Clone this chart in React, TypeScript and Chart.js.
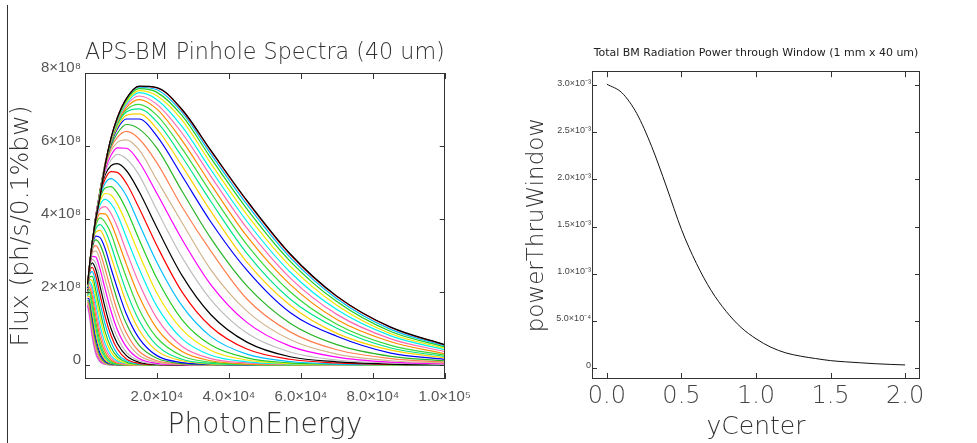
import React, { useEffect, useRef } from 'react';
import { Chart, registerables } from 'chart.js';

Chart.register(...registerables);

// ---------- Left panel: pinhole spectra (flux in units of 1e8 ph/s/0.1%bw) ----------
const ENERGY = [700, 1200, 2000, 3000, 4200, 5600, 7200, 9000, 11500, 15000, 20000, 27000, 35000, 45000, 57000, 70000, 85000, 100000];

const FLUX = [
  [2.21, 2.69, 3.36, 4.00, 4.62, 5.48, 6.21, 6.78, 7.30, 7.64, 7.60, 7.00, 5.88, 4.51, 3.05, 1.89, 1.04, 0.56],
  [2.21, 2.69, 3.36, 4.00, 4.62, 5.48, 6.21, 6.78, 7.30, 7.63, 7.59, 6.98, 5.86, 4.49, 3.03, 1.88, 1.03, 0.55],
  [2.21, 2.68, 3.35, 4.00, 4.63, 5.48, 6.21, 6.76, 7.29, 7.61, 7.54, 6.92, 5.78, 4.40, 2.95, 1.82, 0.98, 0.53],
  [2.20, 2.68, 3.35, 3.99, 4.64, 5.47, 6.20, 6.74, 7.25, 7.57, 7.47, 6.83, 5.67, 4.28, 2.85, 1.74, 0.92, 0.50],
  [2.19, 2.68, 3.34, 3.99, 4.64, 5.48, 6.19, 6.73, 7.21, 7.52, 7.38, 6.71, 5.52, 4.12, 2.71, 1.64, 0.86, 0.46],
  [2.19, 2.68, 3.34, 3.99, 4.66, 5.50, 6.18, 6.70, 7.16, 7.46, 7.27, 6.53, 5.35, 3.94, 2.55, 1.52, 0.80, 0.42],
  [2.18, 2.67, 3.34, 3.99, 4.67, 5.54, 6.16, 6.68, 7.11, 7.37, 7.14, 6.35, 5.17, 3.75, 2.39, 1.39, 0.72, 0.37],
  [2.17, 2.66, 3.33, 3.98, 4.69, 5.53, 6.14, 6.65, 7.05, 7.27, 7.01, 6.15, 4.95, 3.53, 2.21, 1.25, 0.64, 0.31],
  [2.16, 2.66, 3.33, 3.98, 4.70, 5.52, 6.12, 6.62, 6.99, 7.14, 6.84, 5.93, 4.72, 3.30, 2.01, 1.12, 0.54, 0.27],
  [2.15, 2.65, 3.32, 3.97, 4.73, 5.51, 6.11, 6.58, 6.93, 7.02, 6.66, 5.70, 4.48, 3.06, 1.81, 1.01, 0.47, 0.24],
  [2.14, 2.65, 3.32, 3.96, 4.75, 5.51, 6.09, 6.52, 6.84, 6.88, 6.47, 5.45, 4.21, 2.82, 1.64, 0.87, 0.41, 0.20],
  [2.12, 2.65, 3.31, 3.96, 4.77, 5.51, 6.05, 6.47, 6.74, 6.74, 6.27, 5.18, 3.92, 2.60, 1.44, 0.79, 0.33, 0.16],
  [2.11, 2.64, 3.31, 3.94, 4.79, 5.47, 6.00, 6.35, 6.59, 6.47, 5.94, 4.76, 3.47, 2.17, 1.15, 0.56, 0.24, 0.12],
  [2.10, 2.63, 3.29, 3.95, 4.82, 5.44, 5.94, 6.24, 6.40, 6.20, 5.54, 4.33, 3.12, 1.81, 0.91, 0.42, 0.18, 0.08],
  [2.09, 2.63, 3.29, 3.99, 4.81, 5.41, 5.86, 6.10, 6.17, 5.90, 5.07, 3.90, 2.61, 1.48, 0.70, 0.30, 0.12, 0.06],
  [2.08, 2.62, 3.28, 4.03, 4.80, 5.35, 5.74, 5.95, 5.94, 5.57, 4.70, 3.44, 2.20, 1.17, 0.52, 0.22, 0.08, 0.04],
  [2.07, 2.61, 3.27, 4.05, 4.77, 5.29, 5.61, 5.77, 5.65, 5.21, 4.24, 2.95, 1.79, 0.88, 0.36, 0.14, 0.06, 0.02],
  [2.05, 2.60, 3.25, 4.08, 4.73, 5.21, 5.46, 5.52, 5.33, 4.76, 3.76, 2.45, 1.38, 0.63, 0.23, 0.09, 0.03, 0.01],
  [2.05, 2.60, 3.25, 4.09, 4.70, 5.10, 5.30, 5.28, 4.98, 4.31, 3.27, 2.00, 1.05, 0.44, 0.16, 0.06, 0.02, 0.01],
  [2.04, 2.59, 3.28, 4.09, 4.63, 4.98, 5.11, 4.99, 4.64, 3.88, 2.81, 1.62, 0.78, 0.30, 0.10, 0.03, 0.01, 0],
  [2.03, 2.57, 3.32, 4.06, 4.58, 4.85, 4.89, 4.71, 4.26, 3.45, 2.37, 1.24, 0.55, 0.20, 0.06, 0.02, 0.01, 0],
  [2.03, 2.56, 3.34, 4.03, 4.49, 4.70, 4.66, 4.41, 3.88, 3.05, 1.97, 0.97, 0.40, 0.14, 0.04, 0.01, 0, 0],
  [2.02, 2.56, 3.37, 3.99, 4.39, 4.54, 4.42, 4.12, 3.50, 2.65, 1.61, 0.72, 0.27, 0.09, 0.03, 0.01, 0, 0],
  [2.01, 2.54, 3.37, 3.94, 4.28, 4.34, 4.16, 3.78, 3.12, 2.25, 1.28, 0.51, 0.18, 0.06, 0.02, 0, 0, 0],
  [2.00, 2.54, 3.36, 3.89, 4.15, 4.14, 3.89, 3.44, 2.76, 1.89, 1.00, 0.37, 0.12, 0.03, 0.01, 0, 0, 0],
  [2.00, 2.56, 3.33, 3.82, 4.03, 3.91, 3.61, 3.09, 2.40, 1.54, 0.75, 0.25, 0.08, 0.02, 0.01, 0, 0, 0],
  [1.99, 2.59, 3.31, 3.73, 3.85, 3.68, 3.29, 2.74, 2.02, 1.23, 0.54, 0.16, 0.05, 0.01, 0, 0, 0, 0],
  [1.98, 2.61, 3.28, 3.64, 3.69, 3.44, 2.98, 2.43, 1.71, 0.97, 0.39, 0.12, 0.03, 0.01, 0, 0, 0, 0],
  [1.98, 2.63, 3.24, 3.53, 3.49, 3.19, 2.66, 2.10, 1.40, 0.74, 0.26, 0.07, 0.02, 0, 0, 0, 0, 0],
  [1.97, 2.63, 3.19, 3.43, 3.30, 2.92, 2.37, 1.78, 1.13, 0.55, 0.19, 0.04, 0.01, 0, 0, 0, 0, 0],
  [1.96, 2.63, 3.13, 3.27, 3.08, 2.63, 2.07, 1.48, 0.88, 0.38, 0.12, 0.03, 0.01, 0, 0, 0, 0, 0],
  [1.97, 2.61, 3.06, 3.13, 2.87, 2.35, 1.78, 1.22, 0.68, 0.27, 0.08, 0.02, 0, 0, 0, 0, 0, 0],
  [1.99, 2.59, 2.98, 2.96, 2.62, 2.08, 1.49, 0.97, 0.50, 0.18, 0.05, 0.01, 0, 0, 0, 0, 0, 0],
  [2.01, 2.57, 2.89, 2.79, 2.38, 1.82, 1.24, 0.76, 0.35, 0.12, 0.03, 0.01, 0, 0, 0, 0, 0, 0],
  [2.02, 2.54, 2.80, 2.62, 2.15, 1.57, 1.01, 0.59, 0.26, 0.08, 0.02, 0, 0, 0, 0, 0, 0, 0],
  [2.03, 2.50, 2.68, 2.44, 1.92, 1.33, 0.82, 0.44, 0.17, 0.05, 0.01, 0, 0, 0, 0, 0, 0, 0],
  [2.03, 2.46, 2.56, 2.26, 1.70, 1.12, 0.64, 0.31, 0.12, 0.03, 0.01, 0, 0, 0, 0, 0, 0, 0],
  [2.03, 2.40, 2.43, 2.05, 1.48, 0.91, 0.49, 0.23, 0.08, 0.02, 0, 0, 0, 0, 0, 0, 0, 0],
  [2.01, 2.35, 2.31, 1.87, 1.29, 0.75, 0.37, 0.16, 0.05, 0.01, 0, 0, 0, 0, 0, 0, 0, 0],
  [1.99, 2.28, 2.16, 1.68, 1.09, 0.59, 0.27, 0.11, 0.04, 0.01, 0, 0, 0, 0, 0, 0, 0, 0],
  [1.98, 2.23, 2.03, 1.50, 0.91, 0.46, 0.20, 0.08, 0.02, 0, 0, 0, 0, 0, 0, 0, 0, 0],
  [1.95, 2.14, 1.89, 1.34, 0.76, 0.36, 0.14, 0.05, 0.01, 0, 0, 0, 0, 0, 0, 0, 0, 0],
  [1.93, 2.07, 1.75, 1.18, 0.63, 0.27, 0.10, 0.04, 0.01, 0, 0, 0, 0, 0, 0, 0, 0, 0],
  [1.90, 1.99, 1.61, 1.03, 0.51, 0.21, 0.07, 0.02, 0.01, 0, 0, 0, 0, 0, 0, 0, 0, 0],
  [1.86, 1.89, 1.46, 0.87, 0.41, 0.15, 0.05, 0.02, 0, 0, 0, 0, 0, 0, 0, 0, 0, 0],
  [1.83, 1.81, 1.33, 0.75, 0.32, 0.11, 0.04, 0.01, 0, 0, 0, 0, 0, 0, 0, 0, 0, 0],
  [1.79, 1.71, 1.21, 0.63, 0.25, 0.08, 0.02, 0.01, 0, 0, 0, 0, 0, 0, 0, 0, 0, 0],
  [1.75, 1.62, 1.08, 0.52, 0.19, 0.06, 0.02, 0, 0, 0, 0, 0, 0, 0, 0, 0, 0, 0],
  [1.71, 1.54, 0.97, 0.43, 0.15, 0.04, 0.01, 0, 0, 0, 0, 0, 0, 0, 0, 0, 0, 0],
  [1.66, 1.44, 0.85, 0.36, 0.11, 0.03, 0.01, 0, 0, 0, 0, 0, 0, 0, 0, 0, 0, 0],
  [1.60, 1.34, 0.75, 0.28, 0.08, 0.02, 0, 0, 0, 0, 0, 0, 0, 0, 0, 0, 0, 0],
];

const PALETTE = [
  '#000000', '#ff0000', '#00bfff', '#22cc22', '#f2e600', '#00f0f0', '#ff69b4', '#ff8c00', '#3ad83a',
  '#00e68a', '#ffd000', '#0000ff', '#2ab42a', '#ff7f50', '#d2b48c', '#ff00ff', '#bebebe',
];

const LEFT_X_TICKS = [0, 20000, 40000, 60000, 80000, 100000];
const LEFT_X_LABELS = ['', '2.0×10⁴', '4.0×10⁴', '6.0×10⁴', '8.0×10⁴', '1.0×10⁵'];
const LEFT_Y_TICKS = [0, 2, 4, 6, 8];
const LEFT_Y_LABELS = ['0', '2×10⁸', '4×10⁸', '6×10⁸', '8×10⁸'];

// ---------- Right panel: total power through window (units of 1e-3) ----------
const Y_CENTER = [0, 0.1, 0.2, 0.3, 0.4, 0.5, 0.6, 0.7, 0.8, 0.9, 1.0, 1.1, 1.2, 1.3, 1.4, 1.5, 1.6, 1.7, 1.8, 1.9, 2.0];
const POWER = [3.01, 2.92, 2.70, 2.35, 1.92, 1.47, 1.11, 0.82, 0.60, 0.43, 0.31, 0.22, 0.16, 0.125, 0.10, 0.078, 0.065, 0.055, 0.045, 0.038, 0.032];

const RIGHT_X_TICKS = [0, 0.5, 1, 1.5, 2];
const RIGHT_X_LABELS = ['0.0', '0.5', '1.0', '1.5', '2.0'];
const RIGHT_Y_TICKS = [0, 0.5, 1, 1.5, 2, 2.5, 3];
const RIGHT_Y_LABELS = ['0', '5.0×10⁻⁴', '1.0×10⁻³', '1.5×10⁻³', '2.0×10⁻³', '2.5×10⁻³', '3.0×10⁻³'];

const SANS = "'DejaVu Sans', sans-serif";
const ARIAL = "'Liberation Sans', Arial, sans-serif";

const framePlugin = {
  id: 'frame',
  afterDatasetsDraw(chart: any) {
    const { ctx, chartArea, scales } = chart;
    const { left, right, top, bottom } = chartArea;
    const L = 5;
    ctx.save();
    ctx.strokeStyle = '#333';
    ctx.lineWidth = 1;
    ctx.strokeRect(Math.round(left) + 0.5, Math.round(top) + 0.5, Math.round(right - left) - 1, Math.round(bottom - top) - 1);
    ctx.beginPath();
    scales.x.ticks.forEach((t: any) => {
      const px = Math.round(scales.x.getPixelForValue(t.value)) + 0.5;
      ctx.moveTo(px, bottom); ctx.lineTo(px, bottom - L - 1);
      ctx.moveTo(px, top); ctx.lineTo(px, top + L + 1);
    });
    scales.y.ticks.forEach((t: any) => {
      const py = Math.round(scales.y.getPixelForValue(t.value)) + 0.5;
      ctx.moveTo(left, py); ctx.lineTo(left + L, py);
      ctx.moveTo(right, py); ctx.lineTo(right - L, py);
    });
    ctx.stroke();
    ctx.restore();
  },
};

function leftConfig(): any {
  return {
    type: 'line',
    data: {
      datasets: FLUX.map((curve, i) => ({
        data: curve.map((v, k) => ({ x: ENERGY[k], y: v })),
        borderColor: PALETTE[i % PALETTE.length],
        borderWidth: 1.2,
        pointRadius: 0,
        fill: false,
        cubicInterpolationMode: 'monotone',
      })),
    },
    options: {
      responsive: false,
      animation: false,
      devicePixelRatio: 1,
      events: [],
      layout: { padding: { left: 0, right: 34, top: 0, bottom: 0 } },
      plugins: {
        legend: { display: false },
        tooltip: { enabled: false },
        title: {
          display: true,
          text: 'APS-BM Pinhole Spectra (40 um)',
          fullSize: false,
          color: '#333',
          font: { family: SANS, size: 22.5, weight: '200' },
          padding: { top: 40, bottom: 6 },
        },
      },
      scales: {
        x: {
          type: 'linear',
          min: 0,
          max: 100000,
          afterBuildTicks: (s: any) => { s.ticks = LEFT_X_TICKS.map((v) => ({ value: v })); },
          afterFit: (s: any) => { s.height = 64; },
          grid: { display: false, drawTicks: false },
          border: { display: false },
          ticks: {
            autoSkip: false,
            maxRotation: 0,
            padding: 9,
            color: '#555',
            font: { family: ARIAL, size: 15 },
            callback: (_v: any, i: number) => LEFT_X_LABELS[i],
          },
          title: {
            display: true,
            text: 'PhotonEnergy',
            color: '#333',
            font: { family: SANS, size: 28, weight: '200' },
            padding: { top: 0, bottom: 0 },
          },
        },
        y: {
          type: 'linear',
          min: -0.38,
          max: 8,
          afterBuildTicks: (s: any) => { s.ticks = LEFT_Y_TICKS.map((v) => ({ value: v })); },
          afterFit: (s: any) => { s.width = 85; },
          grid: { display: false, drawTicks: false },
          border: { display: false },
          ticks: {
            autoSkip: false,
            padding: 4,
            labelOffset: -5,
            color: '#555',
            font: { family: ARIAL, size: 15 },
            callback: (_v: any, i: number) => LEFT_Y_LABELS[i],
          },
          title: {
            display: true,
            text: 'Flux (ph/s/0.1%bw)',
            color: '#333',
            font: { family: SANS, size: 25, weight: '200' },
            padding: { top: 6, bottom: 0 },
          },
        },
      },
    },
    plugins: [framePlugin],
  };
}

function rightConfig(): any {
  return {
    type: 'line',
    data: {
      datasets: [
        {
          data: POWER.map((v, k) => ({ x: Y_CENTER[k], y: v })),
          borderColor: '#111',
          borderWidth: 1,
          pointRadius: 0,
          fill: false,
          cubicInterpolationMode: 'monotone',
        },
      ],
    },
    options: {
      responsive: false,
      animation: false,
      devicePixelRatio: 1,
      events: [],
      layout: { padding: { left: 0, right: 57, top: 0, bottom: 0 } },
      plugins: {
        legend: { display: false },
        tooltip: { enabled: false },
        title: {
          display: true,
          text: 'Total BM Radiation Power through Window (1 mm x 40 um)',
          fullSize: false,
          color: '#222',
          font: { family: SANS, size: 11, weight: 'normal' },
          padding: { top: 47, bottom: 11 },
        },
      },
      scales: {
        x: {
          type: 'linear',
          min: -0.1,
          max: 2.1,
          afterBuildTicks: (s: any) => { s.ticks = RIGHT_X_TICKS.map((v) => ({ value: v })); },
          afterFit: (s: any) => { s.height = 64; },
          grid: { display: false, drawTicks: false },
          border: { display: false },
          ticks: {
            autoSkip: false,
            maxRotation: 0,
            padding: 3,
            color: '#444',
            font: { family: SANS, size: 24, weight: '200' },
            callback: (_v: any, i: number) => RIGHT_X_LABELS[i],
          },
          title: {
            display: true,
            text: 'yCenter',
            color: '#333',
            font: { family: SANS, size: 25, weight: '200' },
            padding: { top: 0, bottom: 1 },
          },
        },
        y: {
          type: 'linear',
          min: -0.117,
          max: 3.148,
          afterBuildTicks: (s: any) => { s.ticks = RIGHT_Y_TICKS.map((v) => ({ value: v })); },
          afterFit: (s: any) => { s.width = 112; },
          grid: { display: false, drawTicks: false },
          border: { display: false },
          ticks: {
            autoSkip: false,
            padding: 1,
            labelOffset: -2,
            color: '#444',
            font: { family: ARIAL, size: 9 },
            callback: (_v: any, i: number) => RIGHT_Y_LABELS[i],
          },
          title: {
            display: true,
            text: 'powerThruWindow',
            color: '#333',
            font: { family: SANS, size: 23, weight: '200' },
            padding: { top: 43, bottom: 0 },
          },
        },
      },
    },
    plugins: [framePlugin],
  };
}

export default function App() {
  const leftRef = useRef<HTMLCanvasElement>(null);
  const rightRef = useRef<HTMLCanvasElement>(null);

  useEffect(() => {
    const c1 = new Chart(leftRef.current as HTMLCanvasElement, leftConfig());
    const c2 = new Chart(rightRef.current as HTMLCanvasElement, rightConfig());
    return () => {
      c1.destroy();
      c2.destroy();
    };
  }, []);

  return (
    <div style={{ position: 'absolute', left: 0, top: 0, width: 977, height: 443, background: '#fff', overflow: 'hidden' }}>
      <div style={{ position: 'absolute', left: 0, top: 0, width: 480, height: 443 }}>
        <canvas ref={leftRef} width={480} height={443} />
      </div>
      <div style={{ position: 'absolute', left: 480, top: 0, width: 497, height: 443 }}>
        <canvas ref={rightRef} width={497} height={443} />
      </div>
      <div style={{ position: 'absolute', left: 7, top: 5, width: 1, height: 438, background: '#333' }} />
    </div>
  );
}
